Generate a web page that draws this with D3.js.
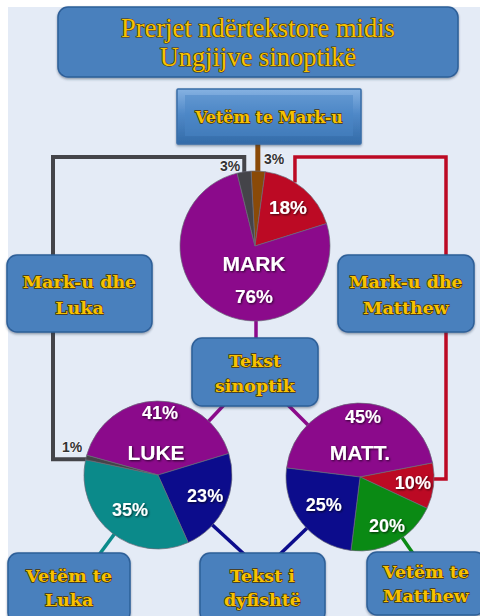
<!DOCTYPE html>
<html>
<head>
<meta charset="utf-8">
<script src="https://cdn.jsdelivr.net/npm/d3@7"></script>
<style>
  html, body { margin: 0; padding: 0; background: #fff; }
  svg { display: block; }
</style>
</head>
<body>
<div id="chart"></div>
<script>
// data
const markLabels = ['Vetëm te Mark-u', 'Mark-u dhe Matthew', 'Tekst sinoptik', 'Mark-u dhe Luka']
const markValues = [3, 18, 76, 3]
const lukeLabels = ['Tekst sinoptik', 'Tekst i dyfishtë', 'Vetëm te Luka', 'Mark-u dhe Luka']
const lukeValues = [41, 23, 35, 1]
const mattLabels = ['Tekst sinoptik', 'Mark-u dhe Matthew', 'Vetëm te Matthew', 'Tekst i dyfishtë']
const mattValues = [45, 10, 20, 25]
const pieNames = ['MARK', 'LUKE', 'MATT.']
const titleLines = ['Prerjet ndërtekstore midis', 'Ungjijve sinoptikë']

const width = 480
const height = 616

const colors = {
  'Vetëm te Mark-u': '#8a4a08',
  'Mark-u dhe Matthew': '#bc0a24',
  'Tekst sinoptik': '#8b0a8b',
  'Mark-u dhe Luka': '#444449',
  'Tekst i dyfishtë': '#0c0c8c',
  'Vetëm te Luka': '#0b8a8a',
  'Vetëm te Matthew': '#0a8a14'
}

const svg = d3.select('#chart').append('svg')
  .attr('width', width)
  .attr('height', height)

const defs = svg.append('defs')
const bevel = defs.append('linearGradient').attr('id', 'bevel')
  .attr('x1', 0).attr('y1', 0).attr('x2', 0).attr('y2', 1)
bevel.append('stop').attr('offset', '0%').attr('stop-color', '#86b2e2')
bevel.append('stop').attr('offset', '45%').attr('stop-color', '#5089c8')
bevel.append('stop').attr('offset', '100%').attr('stop-color', '#336ba8')

const shadow = defs.append('filter').attr('id', 'shadow')
  .attr('x', '-20%').attr('y', '-20%').attr('width', '140%').attr('height', '140%')
shadow.append('feDropShadow').attr('dx', 1).attr('dy', 1)
  .attr('stdDeviation', 0.8).attr('flood-color', '#000').attr('flood-opacity', 0.7)

const boxShadow = defs.append('filter').attr('id', 'boxShadow')
  .attr('x', '-10%').attr('y', '-10%').attr('width', '120%').attr('height', '130%')
boxShadow.append('feDropShadow').attr('dx', 0).attr('dy', 1.5)
  .attr('stdDeviation', 1.2).attr('flood-color', '#203050').attr('flood-opacity', 0.45)

// background
svg.append('rect').attr('x', 8).attr('y', 7)
  .attr('width', width - 8).attr('height', height - 7)
  .attr('fill', '#e4ebf6')

// pie layouts
const pies = [
  { name: pieNames[0], labels: markLabels, values: markValues, cx: 255, cy: 246, r: 75, start: -3 },
  { name: pieNames[1], labels: lukeLabels, values: lukeValues, cx: 158, cy: 475, r: 74, start: -74.5 },
  { name: pieNames[2], labels: mattLabels, values: mattValues, cx: 360, cy: 477, r: 74, start: -83 }
]

pies.forEach(p => {
  const rad = p.start * Math.PI / 180
  p.arcs = d3.pie().sort(null).value(d => d)
    .startAngle(rad).endAngle(rad + 2 * Math.PI)(p.values)
  p.arcs.forEach((a, i) => { a.label = p.labels[i] })
})

// point on the rim of a pie at the middle of a slice
const rim = (p, i, k = 1) => {
  const a = (p.arcs[i].startAngle + p.arcs[i].endAngle) / 2
  return [p.cx + Math.sin(a) * p.r * k, p.cy - Math.cos(a) * p.r * k]
}

// boxes
const boxes = [
  { key: 'title', x: 58, y: 7, w: 400, h: 70, lines: titleLines, size: 26.5, weight: 'normal', ys: [37, 66] },
  { key: 'Vetëm te Mark-u', x: 177, y: 89, w: 184, h: 55, lines: ['Vetëm te Mark-u'], size: 15.8, ys: [123], bevel: true },
  { key: 'Mark-u dhe Luka', x: 7, y: 255, w: 145, h: 77, lines: ['Mark-u dhe', 'Luka'], size: 17.5, ys: [288, 314] },
  { key: 'Mark-u dhe Matthew', x: 338, y: 255, w: 136, h: 77, lines: ['Mark-u dhe', 'Matthew'], size: 17.5, ys: [288, 314] },
  { key: 'Tekst sinoptik', x: 192, y: 338, w: 126, h: 68, lines: ['Tekst', 'sinoptik'], size: 17.5, ys: [367, 392] },
  { key: 'Vetëm te Luka', x: 8, y: 553, w: 122, h: 70, lines: ['Vetëm te', 'Luka'], size: 17.5, ys: [582, 606] },
  { key: 'Tekst i dyfishtë', x: 200, y: 553, w: 125, h: 70, lines: ['Tekst i', 'dyfishtë'], size: 17.5, ys: [582, 606] },
  { key: 'Vetëm te Matthew', x: 367, y: 552, w: 118, h: 63, lines: ['Vetëm te', 'Matthew'], size: 17.5, ys: [578, 602] }
]
const boxOf = k => boxes.find(b => b.key === k)

// connectors (drawn behind boxes and pies)
const lines = svg.append('g').attr('fill', 'none').attr('stroke-linejoin', 'miter')
const [mk, lk, mt] = pies

// Mark-u dhe Luka: grey elbow from MARK to LUKE
{
  const a = rim(mk, 3, 0.98)
  const l = rim(lk, 3, 0.9)
  const bx = boxOf('Mark-u dhe Luka')
  const xLeft = bx.x + 46
  const yTop = 157
  lines.append('path')
    .attr('d', d3.line()([[a[0], a[1]], [a[0], yTop], [xLeft, yTop], [xLeft, l[1]], [l[0], l[1]]]))
    .attr('stroke', colors['Mark-u dhe Luka']).attr('stroke-width', 4)
}
// Mark-u dhe Matthew: red elbow from MARK to MATT
{
  const a = rim(mk, 1, 0.97)
  const m = rim(mt, 1, 0.9)
  const xRight = 446
  const yTop = 157
  lines.append('path')
    .attr('d', d3.line()([[a[0] - 7, a[1] - 8], [a[0] - 7, yTop], [xRight, yTop], [xRight, m[1] - 6], [m[0], m[1] - 6]]))
    .attr('stroke', colors['Mark-u dhe Matthew']).attr('stroke-width', 3.5)
}
// Vetëm te Mark-u: brown stem
{
  const bx = boxOf('Vetëm te Mark-u')
  const a = rim(mk, 0, 0.9)
  lines.append('line').attr('x1', a[0]).attr('x2', a[0])
    .attr('y1', bx.y + bx.h).attr('y2', a[1])
    .attr('stroke', colors['Vetëm te Mark-u']).attr('stroke-width', 5)
}
// Tekst sinoptik: purple links, and the other stems
{
  const bx = boxOf('Tekst sinoptik')
  const cx = bx.x + bx.w / 2
  const cy = bx.y + bx.h / 2
  const link = (x1, y1, x2, y2, c, w) => lines.append('line')
    .attr('x1', x1).attr('y1', y1).attr('x2', x2).attr('y2', y2)
    .attr('stroke', c).attr('stroke-width', w)
  link(mk.cx + 1, mk.cy, mk.cx + 1, cy, colors['Tekst sinoptik'], 3.5)
  link(cx, cy, lk.cx, lk.cy, colors['Tekst sinoptik'], 3.5)
  link(cx, cy, mt.cx, mt.cy, colors['Tekst sinoptik'], 3.5)

  const dy = boxOf('Tekst i dyfishtë')
  const dcx = dy.x + dy.w / 2
  const dcy = dy.y + 18
  link(lk.cx, lk.cy, dcx, dcy, colors['Tekst i dyfishtë'], 3.5)
  link(mt.cx, mt.cy, dcx, dcy, colors['Tekst i dyfishtë'], 3.5)

  const vl = boxOf('Vetëm te Luka')
  link(lk.cx, lk.cy, vl.x + 85, vl.y + 10, colors['Vetëm te Luka'], 3.5)
  const vm = boxOf('Vetëm te Matthew')
  link(mt.cx, mt.cy, vm.x + 52, vm.y + 10, colors['Vetëm te Matthew'], 3.5)
}

// draw boxes
const boxG = svg.append('g')
boxes.forEach(b => {
  const g = boxG.append('g')
  g.append('rect')
    .attr('x', b.x).attr('y', b.y).attr('width', b.w).attr('height', b.h)
    .attr('rx', b.bevel ? 1 : 10)
    .attr('fill', b.bevel ? 'url(#bevel)' : '#4a80bd')
    .attr('stroke', b.bevel ? '#3a6ea8' : '#2d5f98')
    .attr('stroke-width', 1.5)
    .attr('filter', 'url(#boxShadow)')
  if (b.bevel) {
    g.append('rect')
      .attr('x', b.x + 8).attr('y', b.y + 6).attr('width', b.w - 16).attr('height', b.h - 14)
      .attr('fill', '#4a85c6').attr('opacity', 0.5)
  }
  b.lines.forEach((t, i) => {
    g.append('text')
      .attr('x', b.x + b.w / 2).attr('y', b.ys[i])
      .attr('text-anchor', 'middle')
      .attr('font-family', b.key === 'title' ? '"Liberation Serif", serif' : '"DejaVu Serif", serif')
      .attr('font-weight', b.weight || 'bold')
      .attr('font-size', b.size)
      .attr('fill', '#f7c200')
      .attr('stroke', '#4a3200')
      .attr('stroke-width', b.key === 'title' ? 1.2 : 1.3)
      .attr('paint-order', 'stroke')
      .text(t)
  })
})

// draw pies
const arc = d3.arc()
pies.forEach(p => {
  const g = svg.append('g').attr('transform', `translate(${p.cx},${p.cy})`)
  g.selectAll('path').data(p.arcs).enter().append('path')
    .attr('d', d => arc.innerRadius(0).outerRadius(p.r)(d))
    .attr('fill', d => colors[d.label])
    .attr('stroke', '#6a6a78').attr('stroke-width', 0.7)
})

// slice labels
const whiteText = (x, y, t, size) => svg.append('text')
  .attr('x', x).attr('y', y)
  .attr('text-anchor', 'middle').attr('dominant-baseline', 'central')
  .attr('font-family', '"Liberation Sans", Arial, sans-serif')
  .attr('font-weight', 'bold').attr('font-size', size)
  .attr('fill', '#fff').attr('filter', 'url(#shadow)')
  .text(t)
const darkText = (x, y, t) => svg.append('text')
  .attr('x', x).attr('y', y)
  .attr('text-anchor', 'middle').attr('dominant-baseline', 'central')
  .attr('font-family', '"Liberation Sans", Arial, sans-serif')
  .attr('font-weight', 'bold').attr('font-size', 14)
  .attr('fill', '#333').attr('stroke', '#fff').attr('stroke-width', 0.8)
  .attr('paint-order', 'stroke')
  .text(t)
const pct = v => v + '%'

// MARK
{
  const c = rim(mk, 1, 0.68)
  whiteText(c[0], c[1], pct(markValues[1]), 19)
  whiteText(mk.cx - 1, mk.cy + 17, mk.name, 21)
  whiteText(mk.cx - 1, mk.cy + 50, pct(markValues[2]), 19)
  const g = rim(mk, 3, 1)
  darkText(g[0] - 14, g[1] - 6, pct(markValues[3]))
  const b = rim(mk, 0, 1)
  darkText(b[0] + 16, b[1] - 12, pct(markValues[0]))
}
// LUKE
{
  whiteText(lk.cx + 2, lk.cy - 62, pct(lukeValues[0]), 18)
  whiteText(lk.cx - 2, lk.cy - 23, lk.name, 21)
  const n = rim(lk, 1, 0.7)
  whiteText(n[0], n[1], pct(lukeValues[1]), 18)
  const t = rim(lk, 2, 0.6)
  whiteText(t[0], t[1], pct(lukeValues[2]), 18)
  const g = rim(lk, 3, 1)
  darkText(g[0] - 14, g[1] - 10, pct(lukeValues[3]))
}
// MATT
{
  whiteText(mt.cx + 3, mt.cy - 60, pct(mattValues[0]), 18)
  whiteText(mt.cx, mt.cy - 25, mt.name, 21)
  const r = rim(mt, 1, 0.72)
  whiteText(r[0], r[1], pct(mattValues[1]), 18)
  const gr = rim(mt, 2, 0.75)
  whiteText(gr[0], gr[1], pct(mattValues[2]), 18)
  const n = rim(mt, 3, 0.62)
  whiteText(n[0], n[1], pct(mattValues[3]), 18)
}
</script>
</body>
</html>
